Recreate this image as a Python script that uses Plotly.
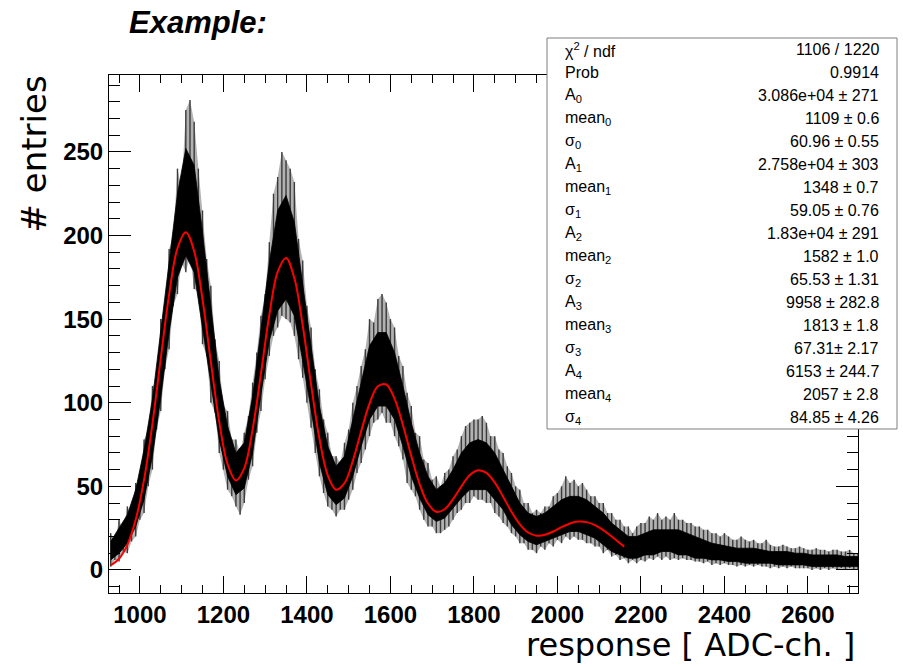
import plotly.graph_objects as go

# ---------------- data ----------------
# histogram spike extremes, sampled every 10 ADC from 930 to 2720
adc_fine = list(range(930, 2721, 10))
hist_hi = [
    22, 17, 30, 24, 38, 33, 52, 50, 78, 84,
    110, 112, 150, 150, 192, 200, 240, 228, 275, 281,
    268, 240, 215, 186, 170, 138, 125, 98, 95, 78,
    78, 70, 82, 92, 112, 130, 152, 165, 196, 225,
    235, 250, 245, 240, 232, 198, 185, 158, 145, 120,
    108, 90, 82, 68, 68, 64, 76, 84, 100, 110,
    122, 132, 150, 148, 162, 165, 160, 150, 145, 128,
    122, 106, 98, 82, 80, 66, 64, 54, 56, 50,
    58, 60, 68, 72, 80, 86, 88, 90, 90, 92,
    88, 80, 80, 72, 70, 62, 58, 50, 48, 40,
    40, 34, 36, 34, 38, 38, 44, 46, 50, 56,
    52, 54, 50, 52, 48, 44, 44, 40, 40, 34,
    34, 30, 30, 26, 26, 22, 26, 28, 28, 32,
    30, 34, 30, 32, 30, 34, 30, 30, 28, 28,
    26, 26, 24, 24, 22, 22, 20, 22, 20, 18,
    18, 20, 18, 17, 18, 16, 16, 18, 15, 14,
    14, 15, 14, 13, 13, 14, 13, 12, 12, 13,
    12, 12, 11, 12, 12, 11, 11, 12, 10, 10,
]
hist_lo = [
    2, 6, 5, 11, 10, 17, 20, 30, 34, 50,
    60, 84, 95, 120, 132, 158, 165, 184, 178, 188,
    168, 166, 135, 128, 100, 94, 70, 60, 48, 44,
    38, 33, 40, 54, 62, 82, 95, 114, 128, 140,
    145, 152, 150, 148, 140, 126, 115, 100, 85, 70,
    56, 46, 38, 36, 32, 36, 36, 42, 48, 58,
    64, 72, 80, 88, 90, 94, 88, 88, 80, 74,
    66, 52, 48, 44, 36, 30, 26, 26, 22, 22,
    24, 26, 30, 34, 36, 40, 40, 44, 42, 42,
    40, 40, 34, 32, 28, 26, 22, 20, 16, 16,
    12, 12, 10, 14, 12, 16, 14, 18, 16, 20,
    18, 20, 18, 18, 16, 16, 14, 14, 10, 12,
    8, 9, 6, 7, 4, 6, 4, 6, 5, 7,
    6, 8, 6, 8, 6, 7, 6, 7, 6, 6,
    5, 5, 4, 5, 3, 4, 3, 4, 3, 3,
    2, 3, 2, 3, 2, 3, 2, 2, 1, 2,
    1, 2, 1, 2, 1, 1, 1, 1, 0, 1,
    0, 1, 0, 1, 0, 1, 0, 1, 0, 0,
]

# dense core of the histogram, sampled every 20 ADC
adc_core = list(range(930, 2731, 20))
core_lo = [
    6, 10, 16, 26, 42, 68, 103, 142, 175, 188,
    178, 146, 112, 78, 56, 45, 49, 70, 105, 137,
    155, 162, 152, 125, 96, 64, 45, 39, 43, 56,
    74, 90, 98, 98, 90, 74, 56, 43, 33, 29,
    31, 37, 43, 48, 48, 48, 42, 36, 27, 21,
    17, 15, 17, 19, 21, 23, 23, 21, 19, 15,
    11, 9, 7, 7, 9, 9, 11, 11, 9, 9,
    7, 7, 6, 6, 5, 5, 4, 4, 4, 4,
    3, 3, 3, 3, 2, 2, 2, 2, 2, 2,
    2,
]
core_hi = [
    17, 25, 33, 48, 72, 102, 142, 182, 225, 252,
    242, 202, 157, 114, 86, 70, 76, 104, 144, 184,
    215, 224, 208, 170, 134, 98, 74, 62, 68, 90,
    112, 134, 142, 142, 130, 110, 88, 70, 56, 48,
    52, 60, 70, 76, 78, 76, 70, 60, 50, 40,
    34, 32, 34, 38, 42, 44, 44, 42, 38, 34,
    28, 24, 20, 20, 22, 24, 24, 24, 24, 22,
    20, 18, 16, 15, 14, 13, 13, 13, 12, 11,
    11, 11, 10, 10, 9, 9, 9, 9, 8, 8,
    8,
]

# fitted curve (red), read every 20 ADC
fit_x = list(range(930, 2151, 20)) + [2160]
fit_y = [
    2.7, 6.7, 15.0, 30.1, 54.0, 87.2, 126.5, 164.6, 192.4, 202.0,
    190.6, 161.8, 124.4, 88.7, 63.3, 53.5, 60.9, 84.1, 117.5, 152.4,
    178.2, 186.6, 174.4, 146.2, 111.0, 78.6, 56.6, 48.0, 51.9, 65.2,
    82.9, 99.5, 109.8, 110.9, 102.3, 86.7, 68.2, 51.4, 39.7, 34.8,
    36.3, 42.3, 50.0, 56.6, 59.6, 58.0, 52.2, 43.8, 34.8, 27.3,
    22.4, 20.5, 21.0, 23.0, 25.6, 27.8, 28.9, 28.6, 26.8, 23.8,
    20.0, 15.9, 13.8,
]

# statistics box
stat_labels = [
    "\u03c7<sup>2</sup> / ndf", "Prob",
    "A<sub>0</sub>", "mean<sub>0</sub>", "\u03c3<sub>0</sub>",
    "A<sub>1</sub>", "mean<sub>1</sub>", "\u03c3<sub>1</sub>",
    "A<sub>2</sub>", "mean<sub>2</sub>", "\u03c3<sub>2</sub>",
    "A<sub>3</sub>", "mean<sub>3</sub>", "\u03c3<sub>3</sub>",
    "A<sub>4</sub>", "mean<sub>4</sub>", "\u03c3<sub>4</sub>",
]
stat_values = [
    "1106 / 1220", "0.9914",
    "3.086e+04 \u00b1 271", "1109 \u00b1 0.6", "60.96 \u00b1 0.55",
    "2.758e+04 \u00b1 303", "1348 \u00b1 0.7", "59.05 \u00b1 0.76",
    "1.83e+04 \u00b1 291", "1582 \u00b1 1.0", "65.53 \u00b1 1.31",
    "9958 \u00b1 282.8", "1813 \u00b1 1.8", "67.31\u00b1 2.17",
    "6153 \u00b1 244.7", "2057 \u00b1 2.8", "84.85 \u00b1 4.26",
]

x_title = "response [ ADC-ch. ]"
y_title = "# entries"
top_label = "Example:"

# ---------------- figure ----------------
W, H = 903, 667
L, R, T, B = 109, 858, 75, 593   # plot frame in pixels
pw, ph = R - L, B - T


def px_x(p):
    return (p - L) / pw


def px_y(p):
    return (B - p) / ph


fig = go.Figure()

# faint halo between the spike extremes
fig.add_trace(go.Scatter(
    x=adc_fine + adc_fine[::-1], y=hist_hi + hist_lo[::-1],
    mode="lines", fill="toself", fillcolor="rgba(0,0,0,0.30)",
    line=dict(width=0), hoverinfo="skip", showlegend=False))

# individual spikes as thin vertical bars
seg_x, seg_y = [], []
for xv, lo, hi in zip(adc_fine, hist_lo, hist_hi):
    seg_x += [xv, xv, None]
    seg_y += [lo, hi, None]
fig.add_trace(go.Scatter(
    x=seg_x, y=seg_y, mode="lines", line=dict(color="#3a3a3a", width=1.4),
    hoverinfo="skip", showlegend=False))

# dense black core
fig.add_trace(go.Scatter(
    x=adc_core + adc_core[::-1], y=core_hi + core_lo[::-1],
    mode="lines", fill="toself", fillcolor="#000000",
    line=dict(width=0.8, color="#000000"), hoverinfo="skip", showlegend=False))

# fit
fig.add_trace(go.Scatter(
    x=fit_x, y=fit_y, mode="lines", line=dict(color="#ff0000", width=2, shape="spline"),
    hoverinfo="skip", showlegend=False))

tickfont = dict(family="Liberation Sans, Arial, sans-serif", size=24, color="black", weight="bold")

fig.update_xaxes(
    range=[926, 2720], showgrid=False, zeroline=False,
    showline=True, linecolor="black", linewidth=1, mirror="ticks",
    ticks="inside", ticklen=17, tickwidth=1, tickcolor="black",
    tick0=0, dtick=200, tickfont=tickfont,
    minor=dict(ticks="inside", dtick=50, ticklen=8, tickwidth=1, tickcolor="black"),
)
fig.update_yaxes(
    range=[-13.8, 296], showgrid=False, zeroline=False,
    showline=True, linecolor="black", linewidth=1, mirror="ticks",
    ticks="inside", ticklen=22, tickwidth=1, tickcolor="black",
    tick0=0, dtick=50, tickfont=tickfont,
    minor=dict(ticks="inside", dtick=10, ticklen=11, tickwidth=1, tickcolor="black"),
)

annotations = []
annotations.append(dict(
    text=x_title, xref="paper", yref="paper", x=px_x(857), y=px_y(645),
    xanchor="right", yanchor="middle", showarrow=False,
    font=dict(family="DejaVu Sans", size=32, color="black")))
annotations.append(dict(
    text=y_title, xref="paper", yref="paper", x=px_x(34), y=px_y(74),
    xanchor="center", yanchor="top", textangle=-90, showarrow=False,
    font=dict(family="DejaVu Sans", size=34, color="black")))
annotations.append(dict(
    text="<b><i>" + top_label + "</i></b>", xref="paper", yref="paper",
    x=px_x(127), y=px_y(23), xanchor="left", yanchor="middle", showarrow=False,
    font=dict(family="Liberation Sans, Arial, sans-serif", size=31, color="black")))

box_l, box_r, box_t, box_b = 547, 897, 38, 429
row_h = (box_b - box_t) / len(stat_labels)
statfont = dict(family="Liberation Sans, Arial, sans-serif", size=16, color="black")
for i, (lab, val) in enumerate(zip(stat_labels, stat_values)):
    yc = box_t + row_h * (i + 0.5)
    annotations.append(dict(
        text=lab, xref="paper", yref="paper", x=px_x(563), y=px_y(yc),
        xanchor="left", yanchor="middle", showarrow=False, font=statfont))
    annotations.append(dict(
        text=val, xref="paper", yref="paper", x=px_x(881), y=px_y(yc),
        xanchor="right", yanchor="middle", showarrow=False, font=statfont))

shapes = [dict(
    type="rect", xref="paper", yref="paper",
    x0=px_x(box_l), x1=px_x(box_r), y0=px_y(box_b), y1=px_y(box_t),
    fillcolor="white", line=dict(color="#7f7f7f", width=1), layer="above")]

fig.update_layout(
    width=W, height=H, autosize=False,
    margin=dict(l=L, r=W - R, t=T, b=H - B, pad=0),
    paper_bgcolor="white", plot_bgcolor="white",
    showlegend=False, annotations=annotations, shapes=shapes,
)

fig.write_html("out.html")
